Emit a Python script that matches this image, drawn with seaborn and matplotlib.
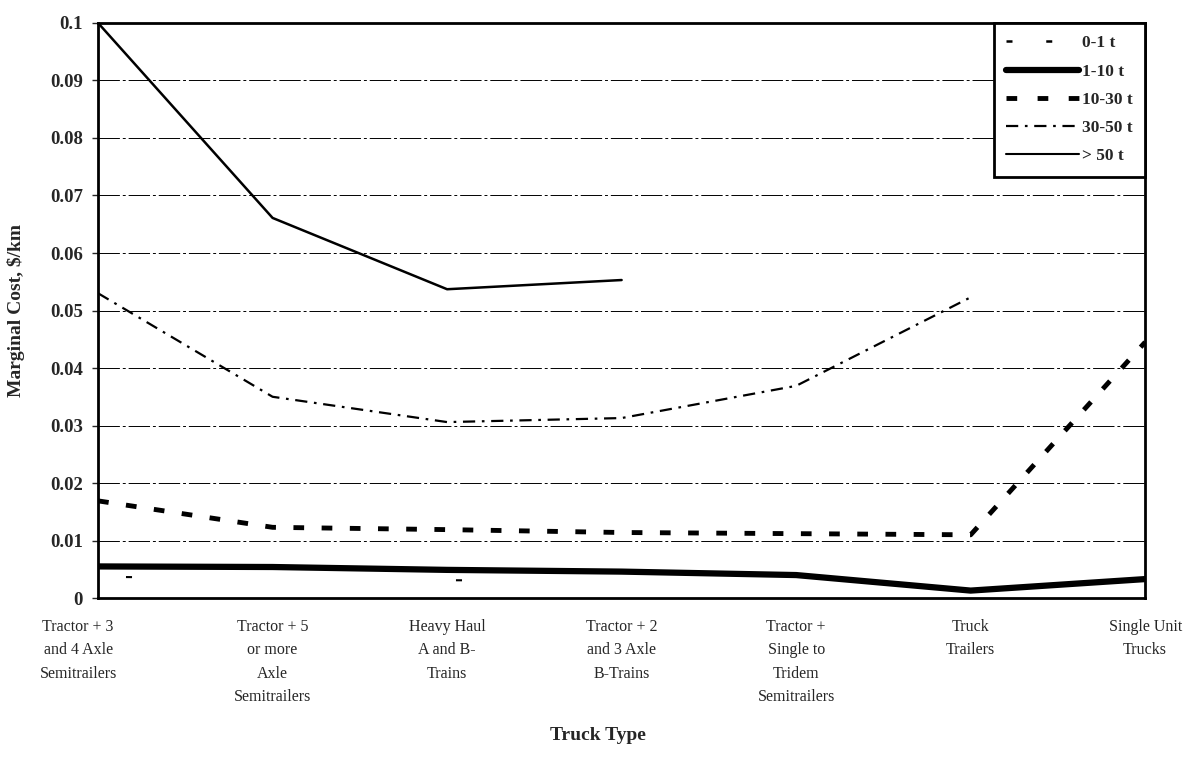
import numpy as np
import seaborn as sns
import matplotlib.pyplot as plt
from matplotlib.lines import Line2D
from matplotlib.transforms import ScaledTranslation

# categories on the x axis
truck_types = [
    "Tractor + 3\nand 4 Axle\nSemitrailers",
    "Tractor + 5\nor more\nAxle\nSemitrailers",
    "Heavy Haul\nA and B-\nTrains",
    "Tractor + 2\nand 3 Axle\nB-Trains",
    "Tractor +\nSingle to\nTridem\nSemitrailers",
    "Truck\nTrailers",
    "Single Unit\nTrucks",
]

# marginal cost ($/km) per weight class
cost_0_1 = [0.0037, 0.0034, 0.0031, 0.0030, np.nan, np.nan, np.nan]
cost_1_10 = [0.0055, 0.0054, 0.0049, 0.0046, 0.0040, 0.0013, 0.0033]
cost_10_30 = [0.0169, 0.0123, 0.0119, 0.0114, 0.0112, 0.0110, 0.0445]
cost_30_50 = [0.0530, 0.0350, 0.0306, 0.0313, 0.0369, 0.0523, np.nan]
cost_50 = [0.1000, 0.0661, 0.0537, 0.0553, np.nan, np.nan, np.nan]

y_ticks = [0, 0.01, 0.02, 0.03, 0.04, 0.05, 0.06, 0.07, 0.08, 0.09, 0.1]
y_tick_labels = ["0", "0.01", "0.02", "0.03", "0.04", "0.05", "0.06", "0.07", "0.08", "0.09", "0.1"]

sns.set_style("white")
plt.rcParams["font.family"] = ["Liberation Serif", "DejaVu Serif"]

fig = plt.figure(figsize=(11.96, 7.58), dpi=100)
ax = fig.add_axes([0.082, 0.211, 0.8755, 0.7587])

pos = np.arange(len(truck_types))

# (values, linewidth, linestyle, zorder)
series = [
    (cost_0_1, 1.5, (145, (2.9, 155.5)), 3),
    (cost_1_10, 4.5, "-", 4),
    (cost_10_30, 3.5, (0, (2.2, 3.6)), 4),
    (cost_30_50, 1.6, (0, (5.5, 3, 1.2, 3)), 4),
    (cost_50, 1.8, "-", 4),
]
for vals, lw, ls, z in series:
    v = np.array(vals)
    ok = ~np.isnan(v)
    sns.lineplot(x=pos[ok], y=v[ok], ax=ax, color="black", lw=lw,
                 linestyle=ls, errorbar=None, zorder=z)

ax.set_xlim(0, 6)
ax.set_ylim(0, 0.1)
ax.set_yticks(y_ticks)
ax.set_yticklabels(y_tick_labels, fontsize=13.5, fontweight="bold")
ax.set_xticks(pos)
ax.set_xticklabels(truck_types, fontsize=11.5, linespacing=1.62, va="top")
ax.tick_params(axis="x", length=0, pad=15)
ax.tick_params(axis="y", length=4, width=1, direction="out", pad=7, left=True)

# first label sits a bit left of its point in the original
lab0 = ax.get_xticklabels()[0]
lab0.set_transform(lab0.get_transform() + ScaledTranslation(-0.2, 0, fig.dpi_scale_trans))

ax.yaxis.grid(True, color="black", lw=0.7, linestyle=(0, (22, 3, 3, 3)))
ax.set_axisbelow(True)
for s in ax.spines.values():
    s.set_visible(True)
    s.set_color("black")
    s.set_linewidth(2)

ax.set_ylabel("Marginal Cost, $/km", fontsize=14, fontweight="bold")
ax.yaxis.set_label_coords(-0.07, 0.5)
ax.set_xlabel("Truck Type", fontsize=14, fontweight="bold")
ax.xaxis.set_label_coords(0.477, -0.225)

handles = [
    Line2D([], [], color="black", lw=1.8, linestyle=(0, (2.4, 13.5))),
    Line2D([], [], color="black", lw=4.5, linestyle="-"),
    Line2D([], [], color="black", lw=3.5, linestyle=(0, (2.2, 4.2))),
    Line2D([], [], color="black", lw=1.6, linestyle=(0, (5.5, 3, 1.2, 3))),
    Line2D([], [], color="black", lw=1.5, linestyle="-"),
]
labels = ["0-1 t", "1-10 t", "10-30 t", "30-50 t", "> 50 t"]
leg = ax.legend(handles, labels, loc="upper right", bbox_to_anchor=(1, 1),
                borderaxespad=0, prop={"size": 12.5, "weight": "bold"},
                handlelength=4.2, handletextpad=0.2, labelspacing=0.7,
                borderpad=0.7, fancybox=False, framealpha=1, edgecolor="black")
leg.get_frame().set_linewidth(2)
leg.set_zorder(10)

fig.savefig("out.png", dpi=100)
